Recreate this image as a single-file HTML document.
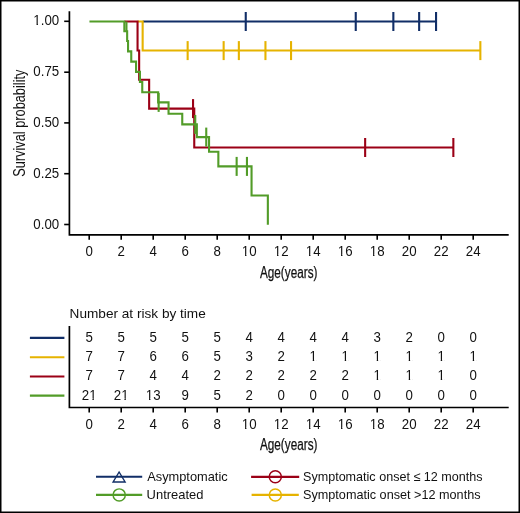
<!DOCTYPE html>
<html><head><meta charset="utf-8"><style>
html,body{margin:0;padding:0;background:#fff;}
svg{display:block;will-change:transform;}
text{font-family:"Liberation Sans", sans-serif;fill:#111;}
</style></head><body>
<svg width="520" height="513" viewBox="0 0 520 513">
<rect x="0" y="0" width="520" height="513" fill="none" stroke="#000" stroke-width="3"/>
<path d="M69.4,11.2 V235.6 M68.6,234.8 H508.7" stroke="#000" stroke-width="1.7" fill="none"/>
<path d="M64.2,21.3 H69.4" stroke="#000" stroke-width="1.6"/>
<text transform="translate(59.20,25.30) scale(0.95,1)" font-size="14.0" text-anchor="end">1.00</text>
<path d="M64.2,72.2 H69.4" stroke="#000" stroke-width="1.6"/>
<text transform="translate(59.20,76.20) scale(0.95,1)" font-size="14.0" text-anchor="end">0.75</text>
<path d="M64.2,122.9 H69.4" stroke="#000" stroke-width="1.6"/>
<text transform="translate(59.20,126.90) scale(0.95,1)" font-size="14.0" text-anchor="end">0.50</text>
<path d="M64.2,173.7 H69.4" stroke="#000" stroke-width="1.6"/>
<text transform="translate(59.20,177.70) scale(0.95,1)" font-size="14.0" text-anchor="end">0.25</text>
<path d="M64.2,224.5 H69.4" stroke="#000" stroke-width="1.6"/>
<text transform="translate(59.20,228.50) scale(0.95,1)" font-size="14.0" text-anchor="end">0.00</text>
<path d="M89.2,234.8 V239.8" stroke="#000" stroke-width="1.6"/>
<text transform="translate(89.20,255.90) scale(0.95,1)" font-size="14.0" text-anchor="middle">0</text>
<path d="M121.2,234.8 V239.8" stroke="#000" stroke-width="1.6"/>
<text transform="translate(121.20,255.90) scale(0.95,1)" font-size="14.0" text-anchor="middle">2</text>
<path d="M153.2,234.8 V239.8" stroke="#000" stroke-width="1.6"/>
<text transform="translate(153.20,255.90) scale(0.95,1)" font-size="14.0" text-anchor="middle">4</text>
<path d="M185.2,234.8 V239.8" stroke="#000" stroke-width="1.6"/>
<text transform="translate(185.20,255.90) scale(0.95,1)" font-size="14.0" text-anchor="middle">6</text>
<path d="M217.2,234.8 V239.8" stroke="#000" stroke-width="1.6"/>
<text transform="translate(217.20,255.90) scale(0.95,1)" font-size="14.0" text-anchor="middle">8</text>
<path d="M249.2,234.8 V239.8" stroke="#000" stroke-width="1.6"/>
<text transform="translate(249.20,255.90) scale(0.95,1)" font-size="14.0" text-anchor="middle">10</text>
<path d="M281.2,234.8 V239.8" stroke="#000" stroke-width="1.6"/>
<text transform="translate(281.20,255.90) scale(0.95,1)" font-size="14.0" text-anchor="middle">12</text>
<path d="M313.2,234.8 V239.8" stroke="#000" stroke-width="1.6"/>
<text transform="translate(313.20,255.90) scale(0.95,1)" font-size="14.0" text-anchor="middle">14</text>
<path d="M345.2,234.8 V239.8" stroke="#000" stroke-width="1.6"/>
<text transform="translate(345.20,255.90) scale(0.95,1)" font-size="14.0" text-anchor="middle">16</text>
<path d="M377.2,234.8 V239.8" stroke="#000" stroke-width="1.6"/>
<text transform="translate(377.20,255.90) scale(0.95,1)" font-size="14.0" text-anchor="middle">18</text>
<path d="M409.2,234.8 V239.8" stroke="#000" stroke-width="1.6"/>
<text transform="translate(409.20,255.90) scale(0.95,1)" font-size="14.0" text-anchor="middle">20</text>
<path d="M441.2,234.8 V239.8" stroke="#000" stroke-width="1.6"/>
<text transform="translate(441.20,255.90) scale(0.95,1)" font-size="14.0" text-anchor="middle">22</text>
<path d="M473.2,234.8 V239.8" stroke="#000" stroke-width="1.6"/>
<text transform="translate(473.20,255.90) scale(0.95,1)" font-size="14.0" text-anchor="middle">24</text>
<text x="288.7" y="277.8" font-size="15.8" text-anchor="middle" textLength="57.5" stroke="#111" stroke-width="0.25" lengthAdjust="spacingAndGlyphs">Age(years)</text>
<text transform="translate(24.5,123.2) rotate(-90)" x="0" y="0" font-size="15.8" text-anchor="middle" textLength="107.2" lengthAdjust="spacingAndGlyphs">Survival probability</text>
<g transform="translate(0.25,0.2)">
<path d="M142.4,21.3 H435.8" stroke="#112e67" stroke-width="2.1" fill="none"/>
<path d="M245.5,11.8 V30.8" stroke="#112e67" stroke-width="2.1"/>
<path d="M355.5,11.8 V30.8" stroke="#112e67" stroke-width="2.1"/>
<path d="M393.1,11.8 V30.8" stroke="#112e67" stroke-width="2.1"/>
<path d="M418.9,11.8 V30.8" stroke="#112e67" stroke-width="2.1"/>
<path d="M435.8,11.8 V30.8" stroke="#112e67" stroke-width="2.1"/>
<path d="M137.3,21.3 H142.4 V50.35 H480.1" stroke="#e6b300" stroke-width="2.1" fill="none"/>
<path d="M187.4,40.9 V59.9" stroke="#e6b300" stroke-width="2.1"/>
<path d="M223.4,40.9 V59.9" stroke="#e6b300" stroke-width="2.1"/>
<path d="M238.6,40.9 V59.9" stroke="#e6b300" stroke-width="2.1"/>
<path d="M265.2,40.9 V59.9" stroke="#e6b300" stroke-width="2.1"/>
<path d="M290.8,40.9 V59.9" stroke="#e6b300" stroke-width="2.1"/>
<path d="M480.1,40.9 V59.9" stroke="#e6b300" stroke-width="2.1"/>
<path d="M124.1,21.3 H137.3 V50.3 H138.9 V79.5 H148.9 V108.4 H194.0 V147.3 H453.1" stroke="#9b0016" stroke-width="2.1" fill="none"/>
<path d="M192.8,98.9 V117.9" stroke="#9b0016" stroke-width="2.1"/>
<path d="M364.9,137.8 V156.8" stroke="#9b0016" stroke-width="2.1"/>
<path d="M453.1,137.8 V156.8" stroke="#9b0016" stroke-width="2.1"/>
<path d="M89.2,21.3 H124.1 V31.1 H126.9 V40.8 H127.8 V51.2 H131.0 V61.4 H135.8 V71.7 H139.7 V81.8 H142.0 V92.1 H157.9 V102.2 H168.3 V113.5 H182.0 V124.2 H196.6 V136.9 H208.8 V151.5 H218.1 V166.2 H251.3 V195.3 H267.6 V224.5" stroke="#529c28" stroke-width="2.1" fill="none"/>
<path d="M126.2,21.3 V31.1" stroke="#529c28" stroke-width="2.1"/>
<path d="M158.4,92.7 V111.7" stroke="#529c28" stroke-width="2.1"/>
<path d="M195.0,114.7 V133.7" stroke="#529c28" stroke-width="2.1"/>
<path d="M206.0,127.4 V146.4" stroke="#529c28" stroke-width="2.1"/>
<path d="M236.4,156.7 V175.7" stroke="#529c28" stroke-width="2.1"/>
<path d="M246.7,156.7 V175.7" stroke="#529c28" stroke-width="2.1"/>
</g>
<text x="69.6" y="317.7" font-size="13" textLength="136.2" lengthAdjust="spacingAndGlyphs">Number at risk by time</text>
<path d="M69.4,326 V408.3 M68.6,407.5 H508.7" stroke="#000" stroke-width="1.7" fill="none"/>
<path d="M29.9,337.9 H64.4" stroke="#112e67" stroke-width="2.1"/>
<text transform="translate(89.20,341.75) scale(0.95,1)" font-size="14.0" text-anchor="middle">5</text>
<text transform="translate(121.20,341.75) scale(0.95,1)" font-size="14.0" text-anchor="middle">5</text>
<text transform="translate(153.20,341.75) scale(0.95,1)" font-size="14.0" text-anchor="middle">5</text>
<text transform="translate(185.20,341.75) scale(0.95,1)" font-size="14.0" text-anchor="middle">5</text>
<text transform="translate(217.20,341.75) scale(0.95,1)" font-size="14.0" text-anchor="middle">5</text>
<text transform="translate(249.20,341.75) scale(0.95,1)" font-size="14.0" text-anchor="middle">4</text>
<text transform="translate(281.20,341.75) scale(0.95,1)" font-size="14.0" text-anchor="middle">4</text>
<text transform="translate(313.20,341.75) scale(0.95,1)" font-size="14.0" text-anchor="middle">4</text>
<text transform="translate(345.20,341.75) scale(0.95,1)" font-size="14.0" text-anchor="middle">4</text>
<text transform="translate(377.20,341.75) scale(0.95,1)" font-size="14.0" text-anchor="middle">3</text>
<text transform="translate(409.20,341.75) scale(0.95,1)" font-size="14.0" text-anchor="middle">2</text>
<text transform="translate(441.20,341.75) scale(0.95,1)" font-size="14.0" text-anchor="middle">0</text>
<text transform="translate(473.20,341.75) scale(0.95,1)" font-size="14.0" text-anchor="middle">0</text>
<path d="M29.9,357.2 H64.4" stroke="#e6b300" stroke-width="2.1"/>
<text transform="translate(89.20,361.10) scale(0.95,1)" font-size="14.0" text-anchor="middle">7</text>
<text transform="translate(121.20,361.10) scale(0.95,1)" font-size="14.0" text-anchor="middle">7</text>
<text transform="translate(153.20,361.10) scale(0.95,1)" font-size="14.0" text-anchor="middle">6</text>
<text transform="translate(185.20,361.10) scale(0.95,1)" font-size="14.0" text-anchor="middle">6</text>
<text transform="translate(217.20,361.10) scale(0.95,1)" font-size="14.0" text-anchor="middle">5</text>
<text transform="translate(249.20,361.10) scale(0.95,1)" font-size="14.0" text-anchor="middle">3</text>
<text transform="translate(281.20,361.10) scale(0.95,1)" font-size="14.0" text-anchor="middle">2</text>
<text transform="translate(313.20,361.10) scale(0.95,1)" font-size="14.0" text-anchor="middle">1</text>
<text transform="translate(345.20,361.10) scale(0.95,1)" font-size="14.0" text-anchor="middle">1</text>
<text transform="translate(377.20,361.10) scale(0.95,1)" font-size="14.0" text-anchor="middle">1</text>
<text transform="translate(409.20,361.10) scale(0.95,1)" font-size="14.0" text-anchor="middle">1</text>
<text transform="translate(441.20,361.10) scale(0.95,1)" font-size="14.0" text-anchor="middle">1</text>
<text transform="translate(473.20,361.10) scale(0.95,1)" font-size="14.0" text-anchor="middle">1</text>
<path d="M29.9,376.5 H64.4" stroke="#9b0016" stroke-width="2.1"/>
<text transform="translate(89.20,380.40) scale(0.95,1)" font-size="14.0" text-anchor="middle">7</text>
<text transform="translate(121.20,380.40) scale(0.95,1)" font-size="14.0" text-anchor="middle">7</text>
<text transform="translate(153.20,380.40) scale(0.95,1)" font-size="14.0" text-anchor="middle">4</text>
<text transform="translate(185.20,380.40) scale(0.95,1)" font-size="14.0" text-anchor="middle">4</text>
<text transform="translate(217.20,380.40) scale(0.95,1)" font-size="14.0" text-anchor="middle">2</text>
<text transform="translate(249.20,380.40) scale(0.95,1)" font-size="14.0" text-anchor="middle">2</text>
<text transform="translate(281.20,380.40) scale(0.95,1)" font-size="14.0" text-anchor="middle">2</text>
<text transform="translate(313.20,380.40) scale(0.95,1)" font-size="14.0" text-anchor="middle">2</text>
<text transform="translate(345.20,380.40) scale(0.95,1)" font-size="14.0" text-anchor="middle">2</text>
<text transform="translate(377.20,380.40) scale(0.95,1)" font-size="14.0" text-anchor="middle">1</text>
<text transform="translate(409.20,380.40) scale(0.95,1)" font-size="14.0" text-anchor="middle">1</text>
<text transform="translate(441.20,380.40) scale(0.95,1)" font-size="14.0" text-anchor="middle">1</text>
<text transform="translate(473.20,380.40) scale(0.95,1)" font-size="14.0" text-anchor="middle">0</text>
<path d="M29.9,395.6 H64.4" stroke="#529c28" stroke-width="2.1"/>
<text transform="translate(89.20,399.70) scale(0.95,1)" font-size="14.0" text-anchor="middle">21</text>
<text transform="translate(121.20,399.70) scale(0.95,1)" font-size="14.0" text-anchor="middle">21</text>
<text transform="translate(153.20,399.70) scale(0.95,1)" font-size="14.0" text-anchor="middle">13</text>
<text transform="translate(185.20,399.70) scale(0.95,1)" font-size="14.0" text-anchor="middle">9</text>
<text transform="translate(217.20,399.70) scale(0.95,1)" font-size="14.0" text-anchor="middle">5</text>
<text transform="translate(249.20,399.70) scale(0.95,1)" font-size="14.0" text-anchor="middle">2</text>
<text transform="translate(281.20,399.70) scale(0.95,1)" font-size="14.0" text-anchor="middle">0</text>
<text transform="translate(313.20,399.70) scale(0.95,1)" font-size="14.0" text-anchor="middle">0</text>
<text transform="translate(345.20,399.70) scale(0.95,1)" font-size="14.0" text-anchor="middle">0</text>
<text transform="translate(377.20,399.70) scale(0.95,1)" font-size="14.0" text-anchor="middle">0</text>
<text transform="translate(409.20,399.70) scale(0.95,1)" font-size="14.0" text-anchor="middle">0</text>
<text transform="translate(441.20,399.70) scale(0.95,1)" font-size="14.0" text-anchor="middle">0</text>
<text transform="translate(473.20,399.70) scale(0.95,1)" font-size="14.0" text-anchor="middle">0</text>
<path d="M89.2,407.5 V412.6" stroke="#000" stroke-width="1.6"/>
<text transform="translate(89.20,428.90) scale(0.95,1)" font-size="14.0" text-anchor="middle">0</text>
<path d="M121.2,407.5 V412.6" stroke="#000" stroke-width="1.6"/>
<text transform="translate(121.20,428.90) scale(0.95,1)" font-size="14.0" text-anchor="middle">2</text>
<path d="M153.2,407.5 V412.6" stroke="#000" stroke-width="1.6"/>
<text transform="translate(153.20,428.90) scale(0.95,1)" font-size="14.0" text-anchor="middle">4</text>
<path d="M185.2,407.5 V412.6" stroke="#000" stroke-width="1.6"/>
<text transform="translate(185.20,428.90) scale(0.95,1)" font-size="14.0" text-anchor="middle">6</text>
<path d="M217.2,407.5 V412.6" stroke="#000" stroke-width="1.6"/>
<text transform="translate(217.20,428.90) scale(0.95,1)" font-size="14.0" text-anchor="middle">8</text>
<path d="M249.2,407.5 V412.6" stroke="#000" stroke-width="1.6"/>
<text transform="translate(249.20,428.90) scale(0.95,1)" font-size="14.0" text-anchor="middle">10</text>
<path d="M281.2,407.5 V412.6" stroke="#000" stroke-width="1.6"/>
<text transform="translate(281.20,428.90) scale(0.95,1)" font-size="14.0" text-anchor="middle">12</text>
<path d="M313.2,407.5 V412.6" stroke="#000" stroke-width="1.6"/>
<text transform="translate(313.20,428.90) scale(0.95,1)" font-size="14.0" text-anchor="middle">14</text>
<path d="M345.2,407.5 V412.6" stroke="#000" stroke-width="1.6"/>
<text transform="translate(345.20,428.90) scale(0.95,1)" font-size="14.0" text-anchor="middle">16</text>
<path d="M377.2,407.5 V412.6" stroke="#000" stroke-width="1.6"/>
<text transform="translate(377.20,428.90) scale(0.95,1)" font-size="14.0" text-anchor="middle">18</text>
<path d="M409.2,407.5 V412.6" stroke="#000" stroke-width="1.6"/>
<text transform="translate(409.20,428.90) scale(0.95,1)" font-size="14.0" text-anchor="middle">20</text>
<path d="M441.2,407.5 V412.6" stroke="#000" stroke-width="1.6"/>
<text transform="translate(441.20,428.90) scale(0.95,1)" font-size="14.0" text-anchor="middle">22</text>
<path d="M473.2,407.5 V412.6" stroke="#000" stroke-width="1.6"/>
<text transform="translate(473.20,428.90) scale(0.95,1)" font-size="14.0" text-anchor="middle">24</text>
<text x="288.7" y="450.4" font-size="15.8" text-anchor="middle" textLength="57.5" stroke="#111" stroke-width="0.25" lengthAdjust="spacingAndGlyphs">Age(years)</text>
<path d="M96,476.7 H142.2" stroke="#112e67" stroke-width="2.1"/>
<path d="M119.1,472.0 L125.1,482.0 L113.1,482.0 Z" stroke="#112e67" stroke-width="1.4" fill="none"/>
<path d="M96,494.9 H142.2" stroke="#529c28" stroke-width="2.1"/>
<circle cx="119.2" cy="494.95" r="6.1" stroke="#529c28" stroke-width="1.45" fill="none"/>
<path d="M251.1,476.85 H299.2" stroke="#9b0016" stroke-width="2.1"/>
<circle cx="275.3" cy="476.8" r="6.05" stroke="#9b0016" stroke-width="1.5" fill="none"/>
<path d="M251.6,494.9 H298.8" stroke="#e6b300" stroke-width="2.1"/>
<circle cx="275.3" cy="495.0" r="6.05" stroke="#e6b300" stroke-width="1.5" fill="none"/>
<text x="147.2" y="480.7" font-size="13" textLength="80.5" lengthAdjust="spacingAndGlyphs">Asymptomatic</text>
<text x="146.6" y="498.5" font-size="13" textLength="56.8" lengthAdjust="spacingAndGlyphs">Untreated</text>
<text x="303.0" y="480.5" font-size="13" textLength="179.5" lengthAdjust="spacingAndGlyphs">Symptomatic onset ≤ 12 months</text>
<text x="303.0" y="498.6" font-size="13" textLength="177.5" lengthAdjust="spacingAndGlyphs">Symptomatic onset &gt;12 months</text>
<g fill="#fff"><path d="M33.48,23.93 H36.55 V26.20 H33.48 Z M37.94,23.93 H40.59 V26.20 H37.94 Z"/><path d="M241.97,254.53 H245.04 V256.80 H241.97 Z M246.43,254.53 H249.08 V256.80 H246.43 Z"/><path d="M273.97,254.53 H277.04 V256.80 H273.97 Z M278.43,254.53 H281.08 V256.80 H278.43 Z"/><path d="M305.97,254.53 H309.04 V256.80 H305.97 Z M310.43,254.53 H313.08 V256.80 H310.43 Z"/><path d="M337.97,254.53 H341.04 V256.80 H337.97 Z M342.43,254.53 H345.08 V256.80 H342.43 Z"/><path d="M369.97,254.53 H373.04 V256.80 H369.97 Z M374.43,254.53 H377.08 V256.80 H374.43 Z"/><path d="M309.66,359.73 H312.74 V362.00 H309.66 Z M314.13,359.73 H316.78 V362.00 H314.13 Z"/><path d="M341.66,359.73 H344.74 V362.00 H341.66 Z M346.13,359.73 H348.78 V362.00 H346.13 Z"/><path d="M373.66,359.73 H376.74 V362.00 H373.66 Z M378.13,359.73 H380.78 V362.00 H378.13 Z"/><path d="M405.66,359.73 H408.74 V362.00 H405.66 Z M410.13,359.73 H412.78 V362.00 H410.13 Z"/><path d="M437.66,359.73 H440.74 V362.00 H437.66 Z M442.13,359.73 H444.78 V362.00 H442.13 Z"/><path d="M469.66,359.73 H472.74 V362.00 H469.66 Z M474.13,359.73 H476.78 V362.00 H474.13 Z"/><path d="M373.66,379.03 H376.74 V381.30 H373.66 Z M378.13,379.03 H380.78 V381.30 H378.13 Z"/><path d="M405.66,379.03 H408.74 V381.30 H405.66 Z M410.13,379.03 H412.78 V381.30 H410.13 Z"/><path d="M437.66,379.03 H440.74 V381.30 H437.66 Z M442.13,379.03 H444.78 V381.30 H442.13 Z"/><path d="M89.36,398.33 H92.43 V400.60 H89.36 Z M93.83,398.33 H96.47 V400.60 H93.83 Z"/><path d="M121.36,398.33 H124.43 V400.60 H121.36 Z M125.83,398.33 H128.47 V400.60 H125.83 Z"/><path d="M145.97,398.33 H149.04 V400.60 H145.97 Z M150.43,398.33 H153.08 V400.60 H150.43 Z"/><path d="M241.97,427.53 H245.04 V429.80 H241.97 Z M246.43,427.53 H249.08 V429.80 H246.43 Z"/><path d="M273.97,427.53 H277.04 V429.80 H273.97 Z M278.43,427.53 H281.08 V429.80 H278.43 Z"/><path d="M305.97,427.53 H309.04 V429.80 H305.97 Z M310.43,427.53 H313.08 V429.80 H310.43 Z"/><path d="M337.97,427.53 H341.04 V429.80 H337.97 Z M342.43,427.53 H345.08 V429.80 H342.43 Z"/><path d="M369.97,427.53 H373.04 V429.80 H369.97 Z M374.43,427.53 H377.08 V429.80 H374.43 Z"/></g>
</svg>
</body></html>
